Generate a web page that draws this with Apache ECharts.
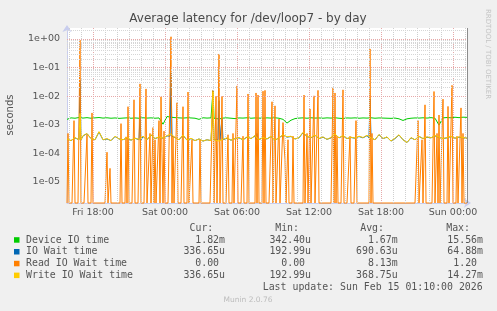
<!DOCTYPE html>
<html><head><meta charset="utf-8">
<script src="https://cdn.jsdelivr.net/npm/echarts@6/dist/echarts.min.js"></script>
<style>html,body{margin:0;padding:0;background:#f0f0f0;}#c{width:497px;height:311px;}</style>
</head><body><div id="c"></div>
<script>
// Time axis: minutes since Fri 00:00. Samples every 5 min from Fri 15:50 to Sun 01:10.
const START = 950, STEP = 5, END = 2950;
const xTickTimes = [1080, 1440, 1800, 2160, 2520, 2880];
const xTickLabels = ['Fri 18:00', 'Sat 00:00', 'Sat 06:00', 'Sat 12:00', 'Sat 18:00', 'Sun 00:00'];
const yTickLabels = ['1e-05', '1e-04', '1e-03', '1e-02', '1e-01', '1e+00'];

// Coarse samples every 20 minutes (k = 0..100), in milliseconds
const deviceMs = [1.55,1.75,1.70,1.80,1.72,1.78,1.70,1.75,1.80,1.72,1.76,1.70,1.74,1.68,1.72,1.75,1.70,1.74,1.70,1.76,
1.72,1.75,1.70,1.74,1.05,1.95,1.85,1.78,1.75,1.72,1.76,1.74,1.70,1.55,1.76,1.72,1.75,1.70,1.60,1.72,
1.75,1.70,1.65,1.74,1.72,1.76,1.70,1.74,1.72,1.70,1.75,1.72,1.76,1.70,1.55,1.15,1.45,1.65,1.72,1.75,
1.70,1.76,1.72,1.74,1.70,1.75,1.72,1.76,1.70,1.66,1.74,1.72,1.75,1.70,1.74,1.72,1.76,1.70,1.74,1.72,
1.70,1.68,1.72,1.62,1.42,1.62,1.70,1.74,1.72,1.76,1.72,1.78,1.70,0.98,1.75,1.80,1.76,1.84,1.78,1.85,1.82];
const ioWaitMs = [0.31,0.28,0.35,0.30,0.41,0.49,0.33,0.30,0.56,0.30,0.32,0.28,0.39,0.32,0.30,0.35,0.29,0.34,0.31,0.39,
0.30,0.44,0.33,0.37,0.34,0.41,0.47,0.36,0.30,0.43,0.29,0.33,0.28,0.32,0.27,0.30,0.28,0.32,0.27,0.31,
0.34,0.29,0.33,0.35,0.30,0.37,0.33,0.41,0.30,0.35,0.32,0.39,0.29,0.35,0.44,0.37,0.39,0.32,0.35,0.53,
0.39,0.35,0.43,0.33,0.37,0.31,0.35,0.47,0.35,0.41,0.33,0.36,0.34,0.39,0.35,0.42,0.34,0.30,0.45,0.33,
0.37,0.27,0.33,0.44,0.30,0.24,0.35,0.30,0.39,0.33,0.37,0.35,0.41,0.36,0.33,0.35,0.39,0.34,0.37,0.35,0.34];
const writeMs = [0.32,0.28,0.36,0.30,0.42,0.50,0.33,0.30,0.58,0.30,0.33,0.28,0.40,0.32,0.30,0.36,0.29,0.34,0.31,0.40,
0.30,0.45,0.33,0.38,0.34,0.42,0.48,0.36,0.30,0.44,0.29,0.34,0.28,0.32,0.27,0.30,0.28,0.32,0.27,0.31,
0.35,0.29,0.33,0.36,0.30,0.38,0.33,0.42,0.30,0.36,0.32,0.40,0.29,0.35,0.45,0.38,0.40,0.32,0.36,0.55,
0.40,0.36,0.44,0.33,0.38,0.31,0.36,0.48,0.35,0.42,0.33,0.37,0.34,0.40,0.36,0.43,0.35,0.30,0.46,0.33,
0.38,0.27,0.34,0.45,0.30,0.24,0.36,0.30,0.40,0.33,0.38,0.35,0.42,0.37,0.33,0.36,0.40,0.34,0.38,0.36,0.34];

// Short spikes on the 5-minute grid: [sampleIndex, before, peak, after] in seconds
const deviceSpikes = [[146, 1.7e-3, 1.556e-2, 1.7e-3]];
const ioWaitSpikes = [[13, 3e-4, 0.035, 3e-4], [73, 3e-4, 2e-3, 3e-4], [104, 4e-4, 0.0649, 4e-4],
  [146, 3e-4, 5e-3, 3e-4], [152, 3e-4, 7e-3, 3e-4], [155, 3e-4, 1.6e-3, 3e-4], [190, 3e-4, 5e-4, 3e-4],
  [303, 3.5e-4, 8e-3, 3.5e-4]];
const writeSpikes = [[13, 3e-4, 2.5e-3, 3e-4], [146, 2.8e-4, 1.427e-2, 3e-4]];

// Read IO wait is 0 except at these samples: [sampleIndex, seconds]
const readSpikes = [[1,5e-4],[7,1.4e-3],[13,0.92],[20,4.5e-4],[25,2.6e-3],[40,1.1e-4],[43,3e-5],[54,1.1e-3],
[59,3.8e-4],[61,4.3e-3],[67,7.5e-3],[73,0.027],[79,0.018],[83,5e-4],[86,8e-4],[88,3e-4],[92,1.4e-3],
[94,9.5e-3],[95,1e-4],[97,6e-4],[104,1.2],[106,4e-4],[110,5.9e-3],[116,4.3e-3],[121,0.014],[125,3e-4],
[133,3e-4],[146,0.016],[149,0.01],[152,0.30],[155,0.01],[161,4.5e-4],[166,5e-4],[170,0.023],[176,4e-4],
[181,0.012],[189,0.013],[191,0.011],[196,0.015],[198,0.016],[205,6.4e-3],[208,4.6e-3],[212,1.6e-3],
[216,1.2e-3],[217,2e-4],[218,6e-5],[221,3e-4],[226,4e-4],[237,0.011],[240,5e-4],[243,3.6e-3],[247,0.0103],
[251,0.016],[266,0.0197],[268,0.013],[270,4e-4],[276,0.0167],[283,4e-4],[289,1.4e-3],[303,0.45],[305,5e-4],
[351,1.4e-3],[355,3e-4],[358,5e-3],[367,0.0146],[370,5e-4],[372,2.2e-3],[376,7.9e-3],[381,4.4e-3],
[385,0.024],[390,4e-4],[394,3.9e-3],[396,5e-4]];

const legendNames = ['Device IO time', 'IO Wait time', 'Read IO Wait time', 'Write IO Wait time'];
const legendCur = ['1.82m', '336.65u', '0.00 ', '336.65u'];
const legendMin = ['342.40u', '192.99u', '0.00 ', '192.99u'];
const legendAvg = ['1.67m', '690.63u', '8.13m', '368.75u'];
const legendMax = ['15.56m', '64.88m', '1.20 ', '14.27m'];
const lastUpdate = 'Last update: Sun Feb 15 01:10:00 2026';

const COLORS = ['#00cc00', '#0066b3', '#ff8000', '#ffcc00'];
const Y_MIN = 1.845e-6, Y_MAX = 2.43;
const COARSE = 4; // samples per coarse step

function build(coarseMs, spikes) {
  const pts = [];
  coarseMs.forEach((v, k) => {
    const idx = k * COARSE;
    if (spikes.some(s => Math.abs(s[0] - idx) <= 1)) return;
    pts.push([START + idx * STEP, v / 1000]);
  });
  spikes.forEach(s => {
    pts.push([START + (s[0] - 1) * STEP, s[1]]);
    pts.push([START + s[0] * STEP, s[2]]);
    pts.push([START + (s[0] + 1) * STEP, s[3]]);
  });
  pts.sort((a, b) => a[0] - b[0]);
  return pts;
}
function buildRead() {
  const n = (END - START) / STEP;
  const vals = new Array(n + 1).fill(0);
  readSpikes.forEach(s => { vals[s[0]] = s[1]; });
  // zero cannot be shown on a log axis: draw it on the bottom edge
  return vals.map((v, i) => [START + i * STEP, v > 0 ? v : Y_MIN]);
}

// grid lines
const gridLines = [];
for (let t = 960; t < END; t += 60) {
  const major = t % 360 === 0;
  gridLines.push({ xAxis: t, lineStyle: { color: major ? '#e6a9a9' : '#cfcfcf', type: [1, 1], width: 1 } });
}
for (let d = -6; d <= 0; d++) {
  for (let m = 1; m <= 9; m++) {
    const v = m * Math.pow(10, d);
    if (v <= Y_MIN || v >= Y_MAX) continue;
    gridLines.push({ yAxis: v, lineStyle: { color: m === 1 ? '#e6a9a9' : '#d6d6d6', type: [1, 1], width: 1 } });
  }
}
gridLines.push({ xAxis: END, lineStyle: { color: '#8c8c8c', type: 'solid', width: 1 } });

function line(name, color, data, z, clip) {
  return { type: 'line', name, data, showSymbol: false, symbol: 'none', z, clip,
    lineStyle: { color, width: 1 }, itemStyle: { color }, emphasis: { disabled: true },
    animation: false, silent: true };
}

const graphics = [];
const FONT = 'DejaVu Sans, sans-serif';
const MONO = '9.9px "DejaVu Sans Mono", monospace';
function txt(text, x, y, font, fill, align, valign, rotation) {
  graphics.push({ type: 'text', x, y, rotation: rotation || 0, silent: true,
    style: { text, font, fill, align, verticalAlign: valign, textAlign: align, textVerticalAlign: valign } });
}
txt('Average latency for /dev/loop7 - by day', 248, 19, '12px ' + FONT, '#4a4a4a', 'center', 'middle');
txt('seconds', 10, 115, '10px ' + FONT, '#555', 'center', 'middle', Math.PI / 2);
txt('RRDTOOL / TOBI OETIKER', 487.5, 54, '7px ' + FONT, '#c4c4c4', 'center', 'middle', -Math.PI / 2);
const rowY0 = 240, rowH = 11.8, headY = 228.2;
txt('Cur:', 213.3, headY, MONO, '#555', 'right', 'middle');
txt('Min:', 299, headY, MONO, '#555', 'right', 'middle');
txt('Avg:', 384, headY, MONO, '#555', 'right', 'middle');
txt('Max:', 470, headY, MONO, '#555', 'right', 'middle');
legendNames.forEach((n, r) => {
  const y = rowY0 + r * rowH;
  graphics.push({ type: 'rect', silent: true, shape: { x: 14, y: y - 2.8, width: 5.5, height: 5.5 }, style: { fill: COLORS[r] } });
  txt(n, 26, y, MONO, '#555', 'left', 'middle');
  txt(legendCur[r], 225, y, MONO, '#555', 'right', 'middle');
  txt(legendMin[r], 311, y, MONO, '#555', 'right', 'middle');
  txt(legendAvg[r], 397.7, y, MONO, '#555', 'right', 'middle');
  txt(legendMax[r], 483, y, MONO, '#555', 'right', 'middle');
});
txt(lastUpdate, 482.7, 287.5, MONO, '#555', 'right', 'middle');
txt('Munin 2.0.76', 248, 300.5, '7.5px ' + FONT, '#bcbcbc', 'center', 'middle');

const chart = echarts.init(document.getElementById('c'), null, { renderer: 'canvas', width: 497, height: 311 });
chart.setOption({
  animation: false,
  backgroundColor: '#f0f0f0',
  grid: { left: 67, top: 28, width: 400, height: 175, show: true, backgroundColor: '#ffffff', borderWidth: 0 },
  xAxis: {
    type: 'value', min: START, max: END,
    axisLine: { show: true, lineStyle: { color: '#c8cdee', width: 1 }, symbol: ['none', 'arrow'], symbolSize: [7, 7], symbolOffset: [0, 4] },
    axisTick: { show: false },
    splitLine: { show: false },
    axisLabel: {
      customValues: xTickTimes, margin: 5, color: '#555', fontFamily: 'DejaVu Sans', fontSize: 9.5,
      formatter: v => { const i = xTickTimes.indexOf(v); return i >= 0 ? xTickLabels[i] : ''; }
    }
  },
  yAxis: {
    type: 'log', logBase: 10, min: Y_MIN, max: Y_MAX,
    axisLine: { show: true, lineStyle: { color: '#c8cdee', width: 1 }, symbol: ['none', 'arrow'], symbolSize: [7, 7], symbolOffset: [0, 3] },
    axisTick: { show: false },
    splitLine: { show: false },
    axisLabel: {
      margin: 7, color: '#555', fontFamily: 'DejaVu Sans', fontSize: 9.5, showMinLabel: false, showMaxLabel: false,
      formatter: v => {
        const l = Math.log10(v), r = Math.round(l);
        if (Math.abs(l - r) > 1e-6 || r < -5 || r > 0) return '';
        return yTickLabels[r + 5];
      }
    }
  },
  series: [
    { type: 'line', data: [], z: 1, silent: true, animation: false,
      markLine: { silent: true, symbol: ['none', 'none'], label: { show: false }, animation: false, data: gridLines } },
    line('Device IO time', COLORS[0], build(deviceMs, deviceSpikes), 2, true),
    line('IO Wait time', COLORS[1], build(ioWaitMs, ioWaitSpikes), 3, true),
    line('Read IO Wait time', COLORS[2], buildRead(), 4, false),
    line('Write IO Wait time', COLORS[3], build(writeMs, writeSpikes), 5, true)
  ],
  graphic: { elements: graphics }
});
</script></body></html>
